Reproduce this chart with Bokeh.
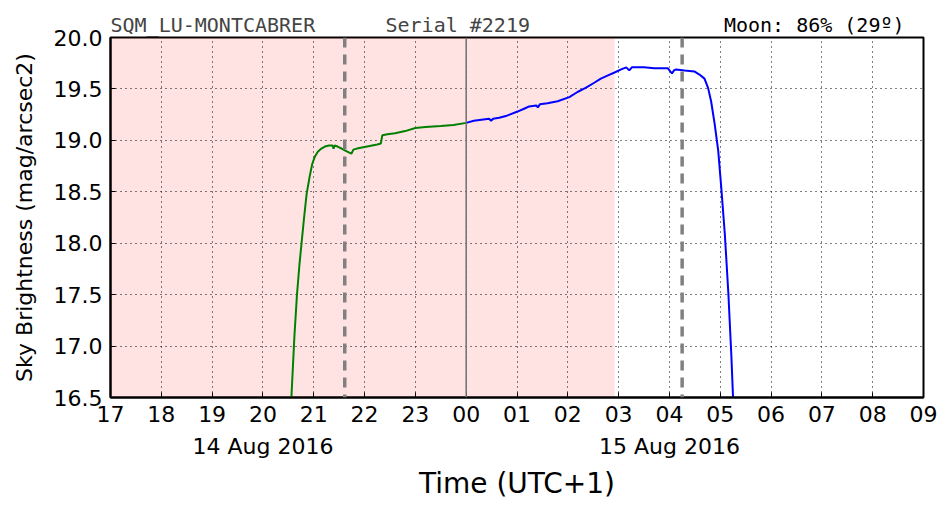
from bokeh.plotting import figure
from bokeh.models import (Range1d, LinearAxis, FixedTicker, Span, BoxAnnotation)
from bokeh.layouts import column
from bokeh.core.properties import value
from bokeh.embed import file_html
from bokeh.resources import INLINE

# ---- data (hours from midnight of 14 Aug 2016, UTC+1) ----
dusk_t = [20.55, 20.62, 20.67, 20.72, 20.76, 20.81, 20.86, 20.92, 20.97, 21.02, 21.08,
          21.15, 21.22, 21.30, 21.37, 21.39, 21.41, 21.47, 21.55, 21.62, 21.70, 21.74,
          21.78, 21.85, 21.95, 22.05, 22.15, 22.25, 22.32, 22.35, 22.45, 22.60, 22.80,
          23.00, 23.20, 23.50, 23.75, 24.00]
dusk_v = [16.40, 17.10, 17.50, 17.80, 18.00, 18.25, 18.48, 18.65, 18.77, 18.84, 18.89,
          18.92, 18.94, 18.95, 18.95, 18.92, 18.95, 18.94, 18.92, 18.90, 18.88, 18.87,
          18.91, 18.92, 18.93, 18.94, 18.95, 18.96, 18.97, 19.05, 19.06, 19.07, 19.09,
          19.12, 19.13, 19.14, 19.15, 19.17]
dawn_t = [24.00, 24.15, 24.30, 24.45, 24.49, 24.53, 24.65, 24.80, 25.01, 25.15, 25.24,
          25.38, 25.41, 25.45, 25.60, 25.80, 26.03, 26.19, 26.35, 26.52, 26.65, 26.78,
          26.92, 27.05, 27.15, 27.21, 27.26, 27.31, 27.50, 27.70, 27.84, 27.97, 28.05,
          28.09, 28.13, 28.30, 28.49, 28.59, 28.69, 28.76, 28.82, 28.89, 28.96, 29.02,
          29.09, 29.16, 29.22, 29.26]
dawn_v = [19.17, 19.19, 19.20, 19.21, 19.19, 19.21, 19.22, 19.24, 19.28, 19.31, 19.33,
          19.34, 19.32, 19.35, 19.36, 19.38, 19.42, 19.47, 19.51, 19.56, 19.60, 19.63,
          19.66, 19.69, 19.71, 19.68, 19.71, 19.71, 19.71, 19.70, 19.70, 19.70, 19.65,
          19.68, 19.69, 19.68, 19.67, 19.64, 19.60, 19.51, 19.38, 19.16, 18.90, 18.54,
          18.09, 17.51, 16.89, 16.40]

x_ticks = list(range(17, 34))
x_tick_labels = ["17", "18", "19", "20", "21", "22", "23", "00", "01", "02", "03",
                 "04", "05", "06", "07", "08", "09"]
y_ticks = [16.5, 17.0, 17.5, 18.0, 18.5, 19.0, 19.5, 20.0]
date_ticks = [20, 28]
date_labels = ["14 Aug 2016", "15 Aug 2016"]
night_span = [17.0, 26.92]       # shaded (astronomical night) interval
moon_marks = [21.61, 28.25]      # dashed vertical markers
midnight = 24.0

title_left = "SQM_LU-MONTCABRER"
title_serial = "Serial #2219"
moon_text = "Moon: 86% (29º)"

FONT = "DejaVu Sans"
MONO = "DejaVu Sans Mono"
X0, X1 = 17, 33
W, H, TOP = 952, 512, 37

# ---- main figure ----
p = figure(width=W, height=H, output_backend="svg", toolbar_location=None,
           x_range=Range1d(X0, X1), y_range=Range1d(16.5, 20.0),
           min_border_left=110, min_border_right=29, min_border_top=TOP,
           min_border_bottom=115, x_axis_location=None)
p.background_fill_color = "white"
p.border_fill_color = "white"
p.outline_line_color = "black"
p.outline_line_width = 2
p.outline_line_alpha = 1

# main x axis
xa = LinearAxis(ticker=FixedTicker(ticks=x_ticks))
xa.major_label_overrides = {t: l for t, l in zip(x_ticks, x_tick_labels)}
xa.major_label_text_font = FONT
xa.major_label_text_font_size = "22px"
xa.major_label_text_color = "black"
xa.major_tick_in = 5
xa.major_tick_out = 0
xa.minor_tick_line_color = None
xa.axis_line_color = "black"
xa.axis_line_width = 2
xa.major_label_standoff = 8
p.add_layout(xa, "below")

# date axis
da = LinearAxis(ticker=FixedTicker(ticks=date_ticks))
da.major_label_overrides = {t: l for t, l in zip(date_ticks, date_labels)}
da.major_label_text_font = FONT
da.major_label_text_font_size = "22px"
da.major_label_text_color = "black"
da.major_tick_line_color = None
da.minor_tick_line_color = None
da.axis_line_color = None
da.major_label_standoff = 3
da.axis_label = "Time (UTC+1)"
da.axis_label_text_font = FONT
da.axis_label_text_font_style = "normal"
da.axis_label_text_font_size = "28px"
da.axis_label_text_color = "black"
da.axis_label_standoff = 5
p.add_layout(da, "below")

ya = p.yaxis[0]
ya.ticker = FixedTicker(ticks=y_ticks)
ya.major_label_overrides = {t: f"{t:.1f}" for t in y_ticks}
ya.major_label_text_font = FONT
ya.major_label_text_font_size = "22px"
ya.major_label_text_color = "black"
ya.major_tick_in = 5
ya.major_tick_out = 0
ya.minor_tick_line_color = None
ya.axis_line_color = "black"
ya.axis_line_width = 2
ya.major_label_standoff = 8
ya.axis_label = "Sky Brightness (mag/arcsec2)"
ya.axis_label_text_font = FONT
ya.axis_label_text_font_style = "normal"
ya.axis_label_text_font_size = "22px"
ya.axis_label_text_color = "black"
ya.axis_label_standoff = 14

for g in (p.xgrid[0], p.ygrid[0]):
    g.grid_line_color = "black"
    g.grid_line_dash = "1 4"
    g.grid_line_width = 1
    g.grid_line_alpha = 1
p.xgrid[0].ticker = FixedTicker(ticks=x_ticks)
p.ygrid[0].ticker = FixedTicker(ticks=y_ticks)

# shaded night
p.add_layout(BoxAnnotation(left=night_span[0], right=night_span[1],
                           fill_color="#ff0000", fill_alpha=0.11,
                           line_color=None, level="image"))

# curves
p.line(dusk_t, dusk_v, line_color="green", line_width=2)
p.line(dawn_t, dawn_v, line_color="blue", line_width=2)

# markers
p.add_layout(Span(location=midnight, dimension="height", line_color="#707070",
                  line_width=1.5))
for m in moon_marks:
    p.add_layout(Span(location=m, dimension="height", line_color="#808080",
                      line_width=3.5, line_dash="10 7"))

# ---- transparent header strip overlaid on the top border ----
h = figure(width=W, height=TOP, output_backend="svg", toolbar_location=None,
           x_range=Range1d(X0, X1), y_range=Range1d(0, TOP),
           min_border_left=110, min_border_right=29, min_border_top=0,
           min_border_bottom=0, x_axis_location=None, y_axis_location=None,
           margin=(-H, 0, 0, 0))
h.outline_line_color = None
h.xgrid.visible = False
h.ygrid.visible = False
h.background_fill_alpha = 0
h.border_fill_alpha = 0
h.text(x=[X0], y=[0.5], text=[title_left], x_offset=0, text_font=value(MONO),
       text_font_size="20px", text_color="#444444", text_baseline="bottom",
       text_align="left")
h.text(x=[X0], y=[0.5], text=[title_serial], x_offset=275, text_font=value(MONO),
       text_font_size="20px", text_color="#444444", text_baseline="bottom",
       text_align="left")
h.text(x=[X1], y=[0.5], text=[moon_text], x_offset=-19, text_font=value(MONO),
       text_font_size="20px", text_color="black", text_baseline="bottom",
       text_align="right")

layout = column(p, h, spacing=0)
open("out.html", "w").write(file_html(layout, INLINE))
